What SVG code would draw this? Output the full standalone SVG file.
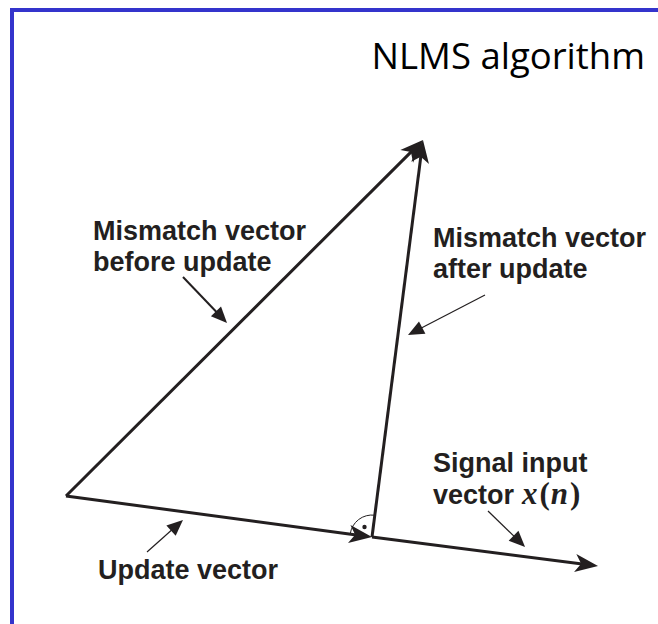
<svg xmlns="http://www.w3.org/2000/svg" width="658" height="624" viewBox="0 0 658 624">
  <style>
    .frame { fill: none; stroke: #3434cc; stroke-width: 4; }
    .title { font-family: "Open Sans", "Noto Sans", sans-serif; font-size: 36.5px; fill: #000; }
    .vec { fill: none; stroke: #231f20; stroke-width: 3; stroke-linecap: butt; }
    .ptr { fill: none; stroke: #231f20; stroke-width: 1.2; }
    .ptr-bold { fill: none; stroke: #231f20; stroke-width: 2; }
    .lbl { font-family: "Liberation Sans", Arial, sans-serif; font-weight: bold; font-size: 27px; fill: #231f20; }
    .math { font-family: "Liberation Serif", "Times New Roman", serif; font-size: 31px; fill: #231f20; font-weight: bold; }
    .arc { fill: none; stroke: #231f20; stroke-width: 1; }
  </style>
  <defs>
    <marker id="head" markerUnits="userSpaceOnUse" viewBox="-24 -10 26 20" refX="-10" refY="0" markerWidth="26" markerHeight="20" orient="auto">
      <path d="M0,0 L-23,-9 L-17,0 L-23,9 Z" fill="#231f20"/>
    </marker>
    <marker id="ptr-head" markerUnits="userSpaceOnUse" viewBox="-18 -8 19 16" refX="-8" refY="0" markerWidth="19" markerHeight="16" orient="auto">
      <path d="M0,0 L-16,-7 L-16,7 Z" fill="#231f20"/>
    </marker>
  </defs>

  <!-- slide frame (open on the right and bottom) -->
  <path class="frame" d="M12,640 V10 H680"/>

  <text class="title" x="645" y="69" text-anchor="end">NLMS algorithm</text>

  <!-- vectors -->
  <g id="connectors">
    <!-- mismatch vector before update: origin to tip -->
    <line class="vec" x1="66" y1="496" x2="415.9" y2="147.1" marker-end="url(#head)"/>
    <!-- mismatch vector after update: foot to tip -->
    <line class="vec" x1="372" y1="537" x2="421.7" y2="149.9" marker-end="url(#head)"/>
    <!-- update vector: origin to foot -->
    <line class="vec" x1="66" y1="496" x2="362.1" y2="535.7" marker-end="url(#head)"/>
    <!-- signal input vector continues beyond the foot -->
    <line class="vec" x1="372" y1="537" x2="588.1" y2="564.7" marker-end="url(#head)"/>

    <!-- label pointers -->
    <line class="ptr-bold" x1="183" y1="277" x2="221.5" y2="317.2" marker-end="url(#ptr-head)"/>
    <line class="ptr" x1="485" y1="295" x2="415.1" y2="331.3" marker-end="url(#ptr-head)"/>
    <line class="ptr" x1="147" y1="552" x2="177" y2="525.3" marker-end="url(#ptr-head)"/>
    <line class="ptr" x1="488" y1="511" x2="519.3" y2="541.4" marker-end="url(#ptr-head)"/>
  </g>

  <!-- right-angle mark at the foot -->
  <g id="right-angle">
    <path class="arc" d="M350.2,534 A22,22 0 0 1 374.8,515.2"/>
    <circle cx="364.5" cy="527" r="2.2" fill="#231f20"/>
  </g>

  <g id="label-before">
    <text class="lbl" x="93" y="240">Mismatch vector</text>
    <text class="lbl" x="93" y="271">before update</text>
  </g>

  <g id="label-after">
    <text class="lbl" x="433" y="247">Mismatch vector</text>
    <text class="lbl" x="433" y="278">after update</text>
  </g>

  <g id="label-signal">
    <text class="lbl" x="433" y="472">Signal input</text>
    <text class="lbl" x="433" y="504">vector</text>
    <text class="math" x="522" y="504"><tspan font-style="italic">x</tspan><tspan dx="2">(</tspan><tspan font-style="italic" dx="1">n</tspan><tspan dx="2">)</tspan></text>
  </g>

  <g id="label-update">
    <text class="lbl" x="98" y="579">Update vector</text>
  </g>
</svg>
